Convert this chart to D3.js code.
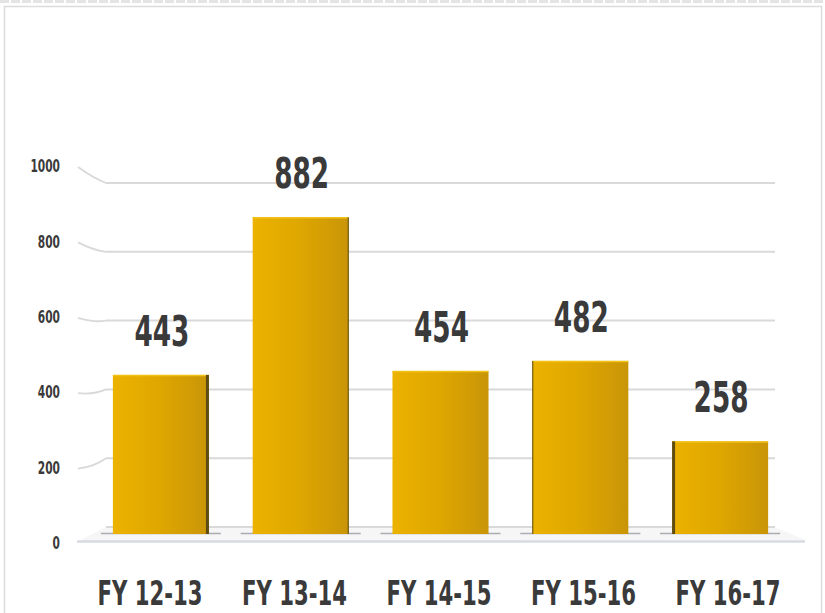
<!DOCTYPE html>
<html>
<head>
<meta charset="utf-8">
<script src="https://cdn.jsdelivr.net/npm/d3@7"></script>
<style>
  html, body { margin: 0; padding: 0; background: #ffffff; }
  svg { display: block; }
  text { font-family: "DejaVu Sans", "Liberation Sans", sans-serif; font-stretch: condensed; font-weight: bold; fill: #3a3a3a; }
</style>
</head>
<body>
<svg id="chart" width="825" height="613"></svg>
<script>
// Fiscal years and counts
const categories = ["FY 12-13", "FY 13-14", "FY 14-15", "FY 15-16", "FY 16-17"];
const values = [443, 882, 454, 482, 258];
const tickValues = [0, 200, 400, 600, 800, 1000];

const svg = d3.select("#chart");
const W = 825, H = 613;

// squeeze a text horizontally so that it spans the given width
function squeeze(sel, width, x, y) {
  sel.each(function () {
    const w = this.getComputedTextLength();
    const s = w > 0 ? width / w : 1;
    d3.select(this).attr("transform", `translate(${x(this)},${y(this)}) scale(${s},1)`);
  });
}

// Frame around the chart area
svg.append("line").attr("x1", 0).attr("x2", W).attr("y1", 1.5).attr("y2", 1.5)
  .attr("stroke", "#e4e4e4").attr("stroke-width", 3).attr("stroke-dasharray", "9 2");
svg.append("rect").attr("x", 4.5).attr("y", 6.5).attr("width", W - 8).attr("height", H)
  .attr("fill", "none").attr("stroke", "#dcdcdc").attr("stroke-width", 1.5);

// Perspective: back wall, side wall edge and front plane each get their own y scale
const yBack = d3.scaleLinear().domain([0, 1000]).range([527, 183]);
const ySide = d3.scaleLinear().domain([0, 1000]).range([543, 166]);
const yFront = d3.scaleLinear().domain([0, 1000]).range([534, 175]);

const backLeft = 106, backRight = 775, sideLeft = 78;

// Floor slab
svg.append("path")
  .attr("d", `M${sideLeft - 1},542 L${backLeft},${yBack(0)} L${backRight},${yBack(0)} L805,540 Z`)
  .attr("fill", "#f6f6f6");
svg.append("line").attr("x1", sideLeft - 1).attr("x2", 805).attr("y1", 541.5).attr("y2", 541.5)
  .attr("stroke", "#d6dbe2").attr("stroke-width", 2.5);

// Gridlines on back wall plus connectors along the side wall
const grid = svg.append("g");
tickValues.forEach(v => {
  grid.append("line")
    .attr("x1", backLeft).attr("x2", backRight)
    .attr("y1", yBack(v)).attr("y2", yBack(v))
    .attr("stroke", "#d9d9d9").attr("stroke-width", 2);
  if (v > 0) {
    grid.append("path")
      .attr("d", `M${sideLeft},${ySide(v) + 1} Q${sideLeft + 16},${(ySide(v) + yBack(v)) / 2 + 4} ${backLeft},${yBack(v)}`)
      .attr("fill", "none").attr("stroke", "#d9d9d9").attr("stroke-width", 1.8);
  }
});

// Value axis labels
const axis = d3.axisLeft(ySide).tickValues(tickValues).tickFormat(d3.format("d")).tickSize(0).tickPadding(0);
const axisG = svg.append("g").attr("transform", "translate(60,0)").call(axis);
axisG.select(".domain").remove();
axisG.selectAll("text")
  .attr("font-size", 18).attr("fill", "#3a3a3a")
  .attr("font-family", null)
  .each(function (d) {
    const w = this.getComputedTextLength();
    const s = (String(d).length * 7.4) / w;
    d3.select(this).attr("transform", `scale(${s},1)`);
  });

// Bars
const x = d3.scaleBand().domain(categories).range([91, 790]).paddingInner(0.313).paddingOuter(0.1565);
const mid = (x.range()[0] + x.range()[1]) / 2;

const defs = svg.append("defs");
const grad = defs.append("linearGradient").attr("id", "barFill").attr("x1", 0).attr("x2", 1).attr("y1", 0).attr("y2", 0);
grad.append("stop").attr("offset", "0%").attr("stop-color", "#ebb200");
grad.append("stop").attr("offset", "45%").attr("stop-color", "#e0a800");
grad.append("stop").attr("offset", "100%").attr("stop-color", "#c99508");

const data = categories.map((c, i) => ({ c, v: values[i] }));
const bars = svg.append("g");

// contact shadows on the floor
bars.selectAll("line.shadow").data(data).join("line")
  .attr("class", "shadow")
  .attr("x1", d => x(d.c) - 12).attr("x2", d => x(d.c) + x.bandwidth() + 12)
  .attr("y1", yFront(0) - 0.5).attr("y2", yFront(0) - 0.5)
  .attr("stroke", "#8a8f96").attr("stroke-width", 1.5).attr("opacity", 0.7);

bars.selectAll("rect.face").data(data).join("rect")
  .attr("class", "face")
  .attr("x", d => x(d.c)).attr("width", x.bandwidth())
  .attr("y", d => yFront(d.v)).attr("height", d => yFront(0) - yFront(d.v))
  .attr("fill", "url(#barFill)");

// thin highlight along the top edge
bars.selectAll("line.top").data(data).join("line")
  .attr("class", "top")
  .attr("x1", d => x(d.c)).attr("x2", d => x(d.c) + x.bandwidth())
  .attr("y1", d => yFront(d.v) + 0.5).attr("y2", d => yFront(d.v) + 0.5)
  .attr("stroke", "#f3c21a").attr("stroke-width", 1.5);

// visible side face depends on where the bar sits relative to the centre
const sideW = d => Math.round(Math.abs(x(d.c) + x.bandwidth() / 2 - mid) / 140 * 1.5);
bars.selectAll("rect.side").data(data).join("rect")
  .attr("class", "side")
  .attr("x", d => (x(d.c) + x.bandwidth() / 2 < mid) ? x(d.c) + x.bandwidth() - sideW(d) : x(d.c))
  .attr("width", sideW)
  .attr("y", d => yFront(d.v)).attr("height", d => yFront(0) - yFront(d.v))
  .attr("fill", "#5e4c12");

// Value labels
svg.append("g").selectAll("text").data(data).join("text")
  .attr("text-anchor", "middle")
  .attr("font-size", 42)
  .text(d => d.v)
  .call(squeeze, 55,
    n => { const d = d3.select(n).datum(); return x(d.c) + x.bandwidth() / 2 + 1; },
    n => yFront(d3.select(n).datum().v) - 29);

// Category labels
const xl = d3.scalePoint().domain(categories).range([150, 728]);
svg.append("g").selectAll("text").data(categories).join("text")
  .attr("text-anchor", "middle")
  .attr("font-size", 34)
  .text(d => d)
  .call(squeeze, 105, n => xl(d3.select(n).datum()), () => 605);
</script>
</body>
</html>
